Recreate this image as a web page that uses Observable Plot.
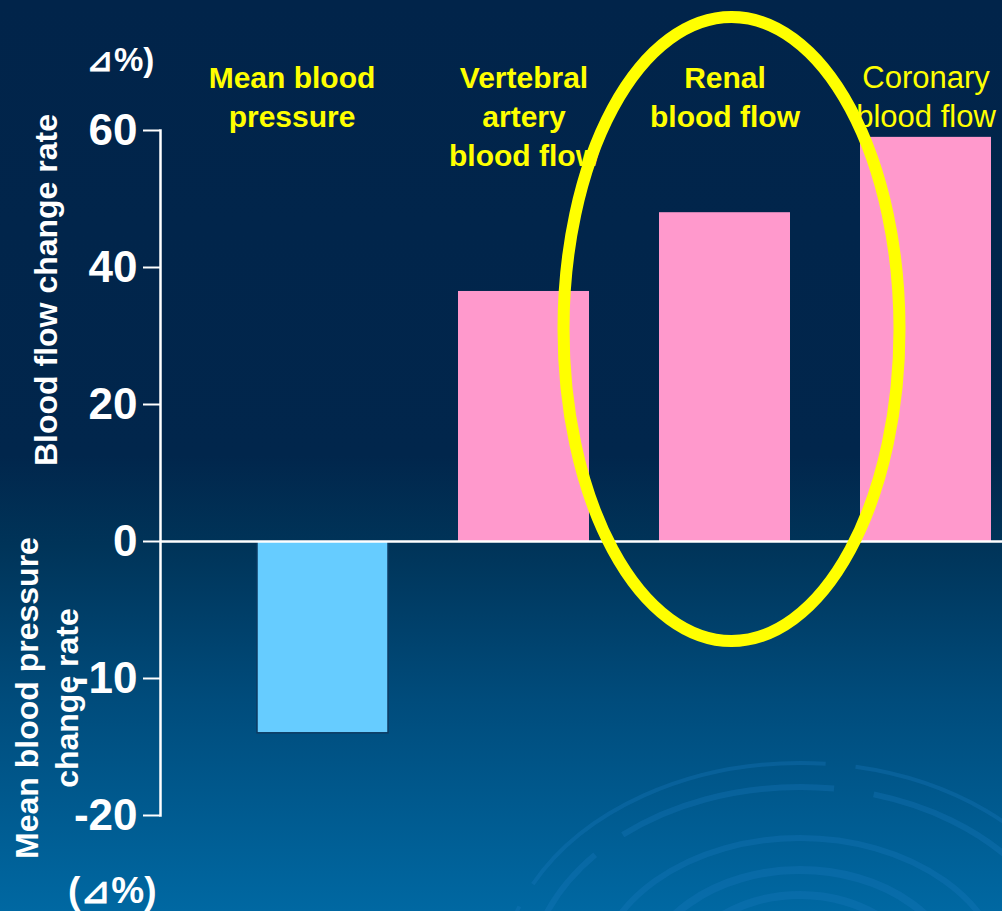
<!DOCTYPE html>
<html>
<head>
<meta charset="utf-8">
<script src="https://cdn.jsdelivr.net/npm/d3@7"></script>
<script src="https://cdn.jsdelivr.net/npm/@observablehq/plot@0.6"></script>
<style>
  body { margin: 0; }
  #wrap {
    position: relative; width: 1002px; height: 911px; overflow: hidden;
    font-family: "Liberation Sans", Arial, sans-serif;
    background: linear-gradient(to bottom, #01244a 0%, #01264c 50%, #003459 60%, #004c7c 77%, #0068a2 100%);
  }
  #ripples, #chart { position: absolute; left: 0; top: 0; }
  .t { position: absolute; color: #fff; font-weight: bold; white-space: nowrap; }
  .rot { transform: translate(-50%, -50%) rotate(-90deg); text-align: center; }
</style>
</head>
<body>
<div id="wrap">
  <svg id="ripples" width="1002" height="911">
    <g fill="none" stroke="#1a7cc0" stroke-opacity="0.3">
      <ellipse cx="800" cy="985" rx="300" ry="222" stroke-width="4" stroke-dasharray="260 26 330 30"></ellipse>
      <ellipse cx="800" cy="985" rx="272" ry="198" stroke-width="6" stroke-dasharray="300 34 220 40"></ellipse>
      <ellipse cx="800" cy="985" rx="205" ry="147" stroke-width="6"></ellipse>
      <ellipse cx="800" cy="985" rx="158" ry="115" stroke-width="8"></ellipse>
      <ellipse cx="800" cy="985" rx="122" ry="90" stroke-width="8"></ellipse>
    </g>
  </svg>
  <div id="chart"></div>
  <div class="t" style="left:86px; top:40px; font-size:33px;">⊿%)</div>
  <div class="t" style="left:68px; top:869px; font-size:37px;">(⊿%)</div>
  <div class="t rot" style="left:46px; top:290px; font-size:32px;">Blood flow change rate</div>
  <div class="t rot" style="left:47px; top:698px; font-size:32px; line-height:40px;">Mean blood pressure<br>change rate</div>
</div>
<script>
// Change rates (%) measured for each vascular bed
const categories = ["Mean blood\npressure", "Vertebral\nartery\nblood flow", "Renal\nblood flow", "Coronary\nblood flow"];
const values = [-14, 36.5, 48, 59];
const barColors = ["#66ccff", "#ff99cc", "#ff99cc", "#ff99cc"];
const yTicks = [60, 40, 20, 0, -10, -20];
const highlighted = "Renal\nblood flow";

// Negative (blood pressure) values are drawn at twice the vertical scale of the blood-flow values
const toAxis = v => (v < 0 ? v * 2 : v);
const fromAxis = v => (v < 0 ? v / 2 : v);

const data = categories.map((c, i) => ({name: c, value: values[i], color: barColors[i]}));

// Yellow ring drawn around the highlighted category
function ring(category, yTop, yBottom, rx, dx) {
  return (index, scales) => {
    const bw = scales.x.bandwidth ? scales.x.bandwidth() : 0;
    const cx = scales.x(category) + bw / 2 + dx;
    const top = scales.y(toAxis(yTop)), bottom = scales.y(toAxis(yBottom));
    return d3.create("svg:ellipse")
      .attr("cx", cx).attr("cy", (top + bottom) / 2)
      .attr("rx", rx).attr("ry", (bottom - top) / 2)
      .attr("fill", "none").attr("stroke", "#ffff00").attr("stroke-width", 12)
      .node();
  };
}

const labelStyle = {x: "name", text: "name", frameAnchor: "top", lineAnchor: "top", dy: -70, fill: "#ffff00"};

const chart = Plot.plot({
  width: 1002,
  height: 911,
  marginLeft: 160,
  marginRight: 0,
  marginTop: 130,
  marginBottom: 96,
  style: {background: "transparent", overflow: "visible", fontFamily: "'Liberation Sans', Arial, sans-serif"},
  x: {domain: categories, paddingInner: 0.35, paddingOuter: 0.266, align: 0.893, axis: null},
  y: {domain: [-40, 60], axis: null},
  marks: [
    Plot.barY(data.filter(d => d.value < 0), {x: "name", y: d => toAxis(d.value), fill: "color", stroke: "#0d3a62", strokeWidth: 1.5}),
    Plot.barY(data.filter(d => d.value >= 0), {x: "name", y: d => toAxis(d.value), fill: "color"}),
    Plot.ruleY([0], {stroke: "#ffffff", strokeWidth: 2.5}),
    Plot.frame({anchor: "left", stroke: "#ffffff", strokeWidth: 2.5}),
    Plot.axisY(yTicks.map(toAxis), {
      tickSize: 17, tickPadding: 6, tickFormat: d => `${fromAxis(d)}`,
      stroke: "#ffffff", strokeWidth: 2, fill: "#ffffff",
      fontSize: 44, fontWeight: "bold", label: null
    }),
    Plot.text(data.slice(0, 1), {...labelStyle, dx: -31, fontSize: 30, fontWeight: "bold", lineHeight: 1.3}),
    Plot.text(data.slice(1, 3), {...labelStyle, fontSize: 30, fontWeight: "bold", lineHeight: 1.3}),
    Plot.text(data.slice(3), {...labelStyle, fontSize: 31, fontWeight: "normal", lineHeight: 1.26}),
    ring(highlighted, 76.5, -7.3, 168, 7)
  ]
});

document.getElementById("chart").appendChild(chart);
</script>
</body>
</html>
